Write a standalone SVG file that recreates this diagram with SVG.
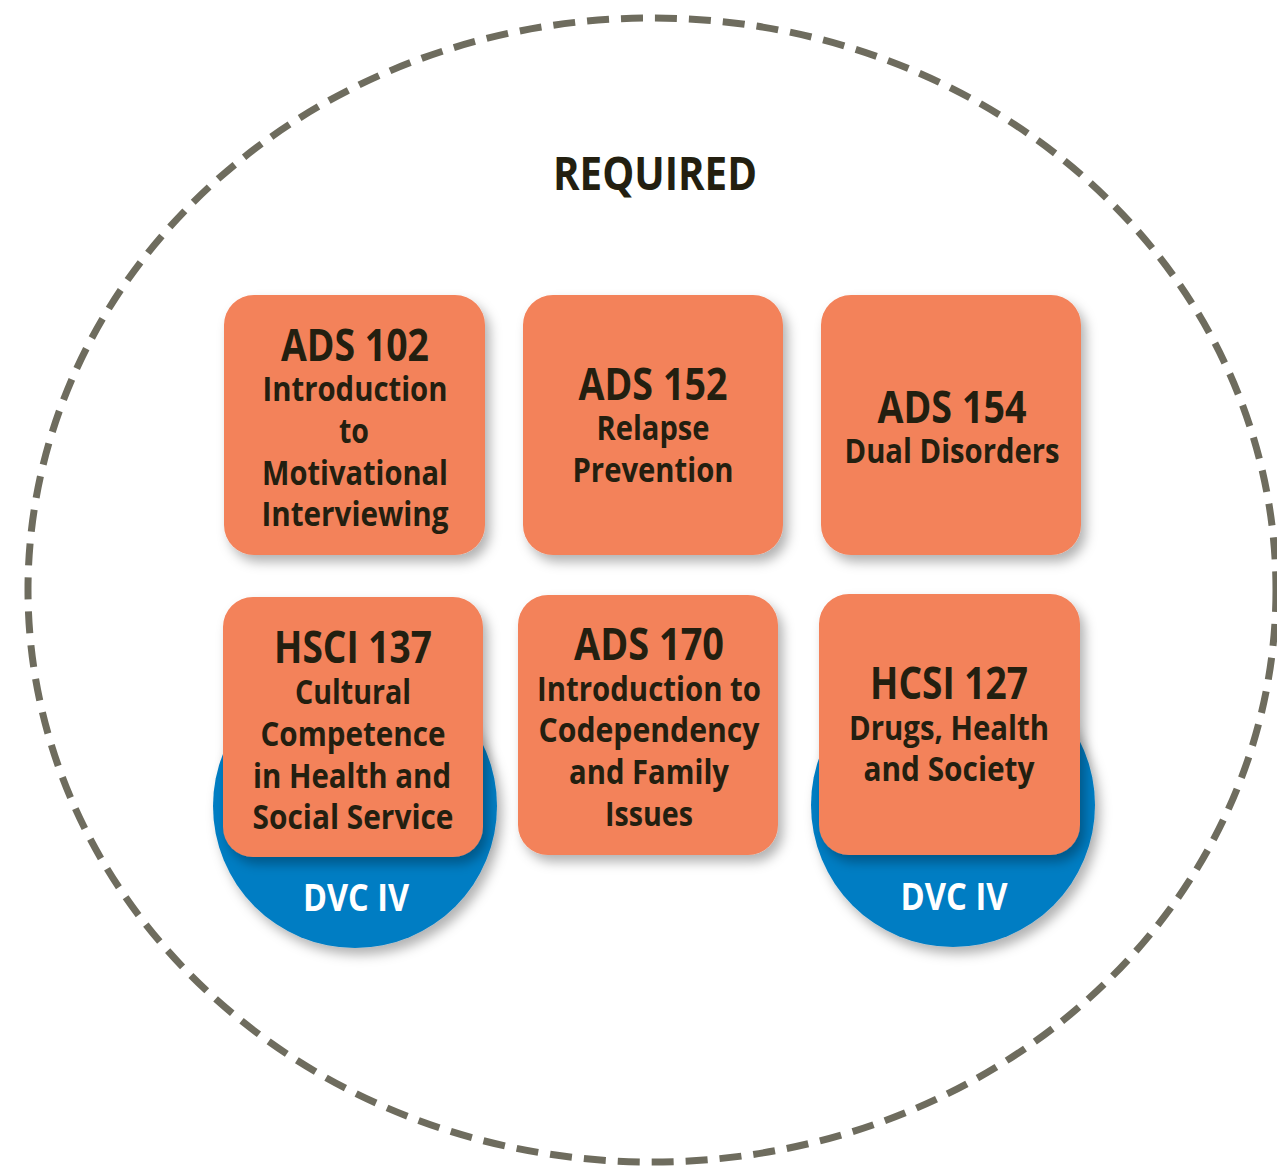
<svg xmlns="http://www.w3.org/2000/svg" width="1277" height="1168" viewBox="0 0 1277 1168">
<defs>
<filter id="sh" x="-20%" y="-20%" width="150%" height="150%">
<feDropShadow dx="5" dy="7" stdDeviation="6" flood-color="#000" flood-opacity="0.3"/>
</filter>
</defs>
<style>
.box{fill:#F3825A;filter:url(#sh)}
.dvc{fill:#007DC3;filter:url(#sh)}
.t{font-family:"Open Sans","Liberation Sans",sans-serif;font-weight:bold;fill:#231F10;text-anchor:middle}
.h{font-size:44px}
.s{font-size:34px}
.w{font-family:"Open Sans","Liberation Sans",sans-serif;font-weight:bold;fill:#fff;text-anchor:middle;font-size:38px}
</style>
<rect width="1277" height="1168" fill="#fff"/>
<ellipse id="required-boundary" cx="652" cy="590" rx="624" ry="572" fill="none" stroke="#6E6C5E" stroke-width="7" stroke-dasharray="22 12"/>
<text class="t" x="655" y="190" font-size="46" textLength="204" lengthAdjust="spacingAndGlyphs">REQUIRED</text>

<g id="ads102">
<rect class="box" x="224" y="295" width="261" height="260" rx="30"/>
<text class="t h" x="355" y="361" textLength="148" lengthAdjust="spacingAndGlyphs">ADS 102</text>
<text class="t s" x="355" y="401" textLength="185" lengthAdjust="spacingAndGlyphs">Introduction</text>
<text class="t s" x="354" y="443" textLength="30" lengthAdjust="spacingAndGlyphs">to</text>
<text class="t s" x="355" y="485" textLength="186" lengthAdjust="spacingAndGlyphs">Motivational</text>
<text class="t s" x="355" y="526" textLength="187" lengthAdjust="spacingAndGlyphs">Interviewing</text>
</g>

<g id="ads152">
<rect class="box" x="523" y="295" width="260" height="260" rx="30"/>
<text class="t h" x="653" y="400" textLength="149" lengthAdjust="spacingAndGlyphs">ADS 152</text>
<text class="t s" x="653" y="440" textLength="113" lengthAdjust="spacingAndGlyphs">Relapse</text>
<text class="t s" x="653" y="482" textLength="161" lengthAdjust="spacingAndGlyphs">Prevention</text>
</g>

<g id="ads154">
<rect class="box" x="821" y="295" width="260" height="260" rx="30"/>
<text class="t h" x="952" y="423" textLength="149" lengthAdjust="spacingAndGlyphs">ADS 154</text>
<text class="t s" x="952" y="463" textLength="215" lengthAdjust="spacingAndGlyphs">Dual Disorders</text>
</g>

<g id="hsci137">
<circle class="dvc" cx="355" cy="806" r="142"/>
<rect class="box" x="223" y="597" width="260" height="260" rx="30"/>
<text class="t h" x="353" y="663" textLength="158" lengthAdjust="spacingAndGlyphs">HSCI 137</text>
<text class="t s" x="353" y="704" textLength="116" lengthAdjust="spacingAndGlyphs">Cultural</text>
<text class="t s" x="353" y="746" textLength="185" lengthAdjust="spacingAndGlyphs">Competence</text>
<text class="t s" x="352" y="788" textLength="198" lengthAdjust="spacingAndGlyphs">in Health and</text>
<text class="t s" x="353" y="829" textLength="201" lengthAdjust="spacingAndGlyphs">Social Service</text>
<text class="w" x="356" y="911" textLength="106" lengthAdjust="spacingAndGlyphs">DVC IV</text>
</g>

<g id="ads170">
<rect class="box" x="518" y="595" width="260" height="260" rx="30"/>
<text class="t h" x="649" y="660" textLength="150" lengthAdjust="spacingAndGlyphs">ADS 170</text>
<text class="t s" x="649" y="701" textLength="224" lengthAdjust="spacingAndGlyphs">Introduction to</text>
<text class="t s" x="649" y="742" textLength="221" lengthAdjust="spacingAndGlyphs">Codependency</text>
<text class="t s" x="649" y="784" textLength="160" lengthAdjust="spacingAndGlyphs">and Family</text>
<text class="t s" x="649" y="826" textLength="88" lengthAdjust="spacingAndGlyphs">Issues</text>
</g>

<g id="hcsi127">
<circle class="dvc" cx="953" cy="805" r="142"/>
<rect class="box" x="819" y="594" width="261" height="261" rx="30"/>
<text class="t h" x="949" y="699" textLength="158" lengthAdjust="spacingAndGlyphs">HCSI 127</text>
<text class="t s" x="949" y="740" textLength="200" lengthAdjust="spacingAndGlyphs">Drugs, Health</text>
<text class="t s" x="949" y="781" textLength="171" lengthAdjust="spacingAndGlyphs">and Society</text>
<text class="w" x="954" y="910" textLength="107" lengthAdjust="spacingAndGlyphs">DVC IV</text>
</g>
</svg>
